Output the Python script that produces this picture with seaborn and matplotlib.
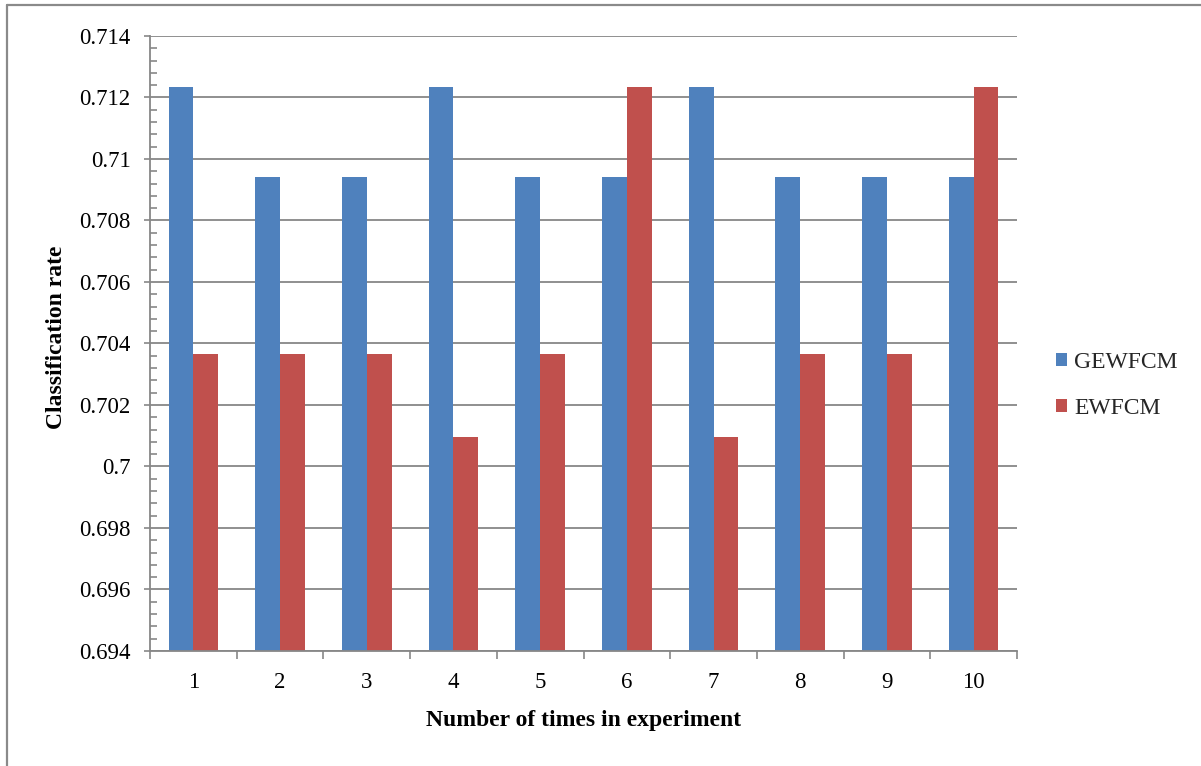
import matplotlib
matplotlib.use("Agg")
import matplotlib.pyplot as plt
import numpy as np
import pandas as pd
import seaborn as sns
from matplotlib.lines import Line2D
from matplotlib.ticker import FixedLocator, FuncFormatter

# Classification rate per experiment run for the two clustering methods
runs = ["1", "2", "3", "4", "5", "6", "7", "8", "9", "10"]
gewfcm = [0.71233, 0.70942, 0.70942, 0.71233, 0.70942,
          0.70942, 0.71233, 0.70942, 0.70942, 0.70942]
ewfcm = [0.70366, 0.70366, 0.70366, 0.70095, 0.70366,
         0.71233, 0.70095, 0.70366, 0.70366, 0.71233]
methods = ["GEWFCM", "EWFCM"]
colors = ["#4F81BD", "#C0504D"]

df = pd.DataFrame({
    "run": runs * 2,
    "rate": gewfcm + ewfcm,
    "method": [methods[0]] * len(runs) + [methods[1]] * len(runs),
})

sns.set_theme(style="white")
plt.rcParams["font.family"] = ["Liberation Serif", "DejaVu Serif"]

W, H = 1201, 766
GRAY = "#878787"

fig = plt.figure(figsize=(W / 100, H / 100), dpi=100)
ax = fig.add_axes([150 / W, 1 - 651 / H, 867 / W, 615 / H])

sns.barplot(data=df, x="run", y="rate", hue="method", order=runs,
            hue_order=methods, palette=colors, saturation=1,
            width=0.5714, errorbar=None, linewidth=0, ax=ax)

ax.set_ylim(0.694, 0.714)
ax.set_xlim(-0.5, len(runs) - 0.5)

# y axis: labelled ticks every 0.002, small inner ticks every 0.0004
major = np.round(np.arange(0.694, 0.7141, 0.002), 4)
minor = np.round(np.arange(0.694, 0.7141, 0.0004), 5)
ax.yaxis.set_major_locator(FixedLocator(major))
ax.yaxis.set_minor_locator(FixedLocator(minor))
ax.yaxis.set_major_formatter(
    FuncFormatter(lambda v, p: f"{v:.3f}".rstrip("0").rstrip(".")))
ax.tick_params(axis="y", which="major", direction="out", length=4,
               width=1.2, color=GRAY, pad=10, labelsize=16.5,
               labelcolor="black", left=True)
ax.tick_params(axis="y", which="minor", direction="in", length=5,
               width=1.2, color=GRAY, left=True)

# x axis: tick marks between categories, labels centred without marks
ax.xaxis.set_minor_locator(FixedLocator(np.arange(-0.5, len(runs), 1.0)))
ax.tick_params(axis="x", which="major", length=0, pad=15,
               labelsize=16.5, labelcolor="black")
ax.tick_params(axis="x", which="minor", direction="out", length=6,
               width=1.2, color=GRAY, bottom=True)

ax.yaxis.grid(True, which="major", color=GRAY, linewidth=1.3)
ax.xaxis.grid(False)
ax.set_axisbelow(True)

for side in ("top", "right"):
    ax.spines[side].set_visible(False)
for side in ("left", "bottom"):
    ax.spines[side].set_color(GRAY)
    ax.spines[side].set_linewidth(1.3)

ax.set_xlabel("Number of times in experiment", fontsize=17,
              fontweight="bold", color="black")
ax.set_ylabel("Classification rate", fontsize=17, fontweight="bold",
              color="black")
ax.xaxis.set_label_coords(0.5, -0.096)
ax.yaxis.set_label_coords(-0.096, 0.51)

handles, labels = ax.get_legend_handles_labels()
ax.get_legend().remove()
fig.legend(handles, labels, loc="center left",
           bbox_to_anchor=(1056 / W, 1 - 385.5 / H), frameon=False,
           fontsize=17, handlelength=0.47, handleheight=0.47,
           handletextpad=0.3, labelspacing=1.05, borderaxespad=0,
           borderpad=0)

# chart frame along the top and left edges
fig.add_artist(Line2D([7 / W, 7 / W], [0, 1 - 5 / H],
                      transform=fig.transFigure, color="#8a8a8a", lw=1.6))
fig.add_artist(Line2D([7 / W, 1], [1 - 5 / H, 1 - 5 / H],
                      transform=fig.transFigure, color="#8a8a8a", lw=1.6))

fig.savefig("out.png", dpi=100)
